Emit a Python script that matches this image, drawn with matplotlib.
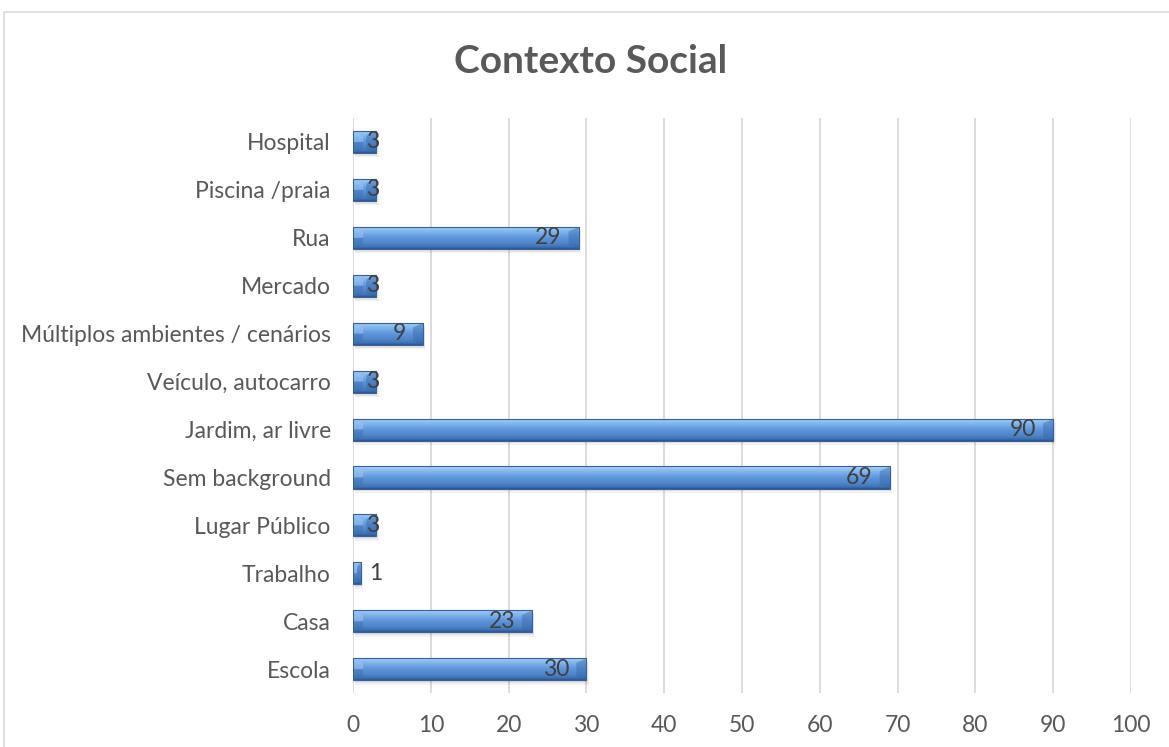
import numpy as np
import matplotlib.pyplot as plt
from matplotlib.patches import Rectangle, Polygon
from matplotlib.colors import LinearSegmentedColormap

# categories listed bottom to top
categorias = ["Escola", "Casa", "Trabalho", "Lugar Público", "Sem background",
              "Jardim, ar livre", "Veículo, autocarro", "Múltiplos ambientes / cenários",
              "Mercado", "Rua", "Piscina /praia", "Hospital"]
valores = [30, 23, 1, 3, 69, 90, 3, 9, 3, 29, 3, 3]
xticks = list(range(0, 101, 10))

plt.rcParams['font.family'] = ['Lato', 'DejaVu Sans']
texto = '#595959'

fig = plt.figure(figsize=(11.69, 7.47), dpi=100)
ax = fig.add_axes([0.302, 0.072, 0.6655, 0.770])

# chart frame
fig.patches.append(Rectangle((4 / 1169, -0.1), 1.2, 1 - 12 / 747 + 0.1,
                             transform=fig.transFigure, fill=False,
                             edgecolor='#D9D9D9', lw=1.2))

y = np.arange(len(categorias))
h = 0.46
grad = LinearSegmentedColormap.from_list(
    'barra', [(0, '#b5d6f7'), (0.12, '#93c2f0'), (0.3, '#78aeea'), (0.5, '#5f96da'),
              (0.75, '#4f86cb'), (0.9, '#4274b5'), (1, '#2f5690')])
img = np.linspace(0, 1, 64).reshape(-1, 1)

for yi, v in zip(y, valores):
    # soft shadow
    for k, a in enumerate([0.05, 0.05, 0.05]):
        ax.add_patch(Rectangle((0.1 + 0.1 * k, yi - h / 2 - 0.03 - 0.03 * k), v, h,
                               facecolor='#000000', alpha=a, lw=0, zorder=2))
    bar = Rectangle((0, yi - h / 2), v, h, facecolor='#5b8fd0', lw=0, zorder=3)
    ax.add_patch(bar)
    im = ax.imshow(img, cmap=grad, aspect='auto', origin='upper',
                   extent=(0, v, yi - h / 2, yi + h / 2), zorder=3.5)
    im.set_clip_path(bar)
    b = min(1.3, v / 2)
    # bevel ends
    ax.add_patch(Polygon([(0, yi + h / 2), (b, yi + h / 2 - 0.1), (b, yi), (0, yi)],
                         closed=True, facecolor='#9cc8f3', alpha=0.5, lw=0, zorder=4))
    ax.add_patch(Polygon([(0, yi), (b, yi), (b, yi - h / 2 + 0.08), (0, yi - h / 2)],
                         closed=True, facecolor='#3e6fb0', alpha=0.45, lw=0, zorder=4))
    ax.add_patch(Polygon([(v, yi + h / 2), (v - b, yi + h / 2 - 0.1), (v - b, yi - h / 2 + 0.08),
                          (v, yi - h / 2)], closed=True, facecolor='#3566a8',
                         alpha=0.45, lw=0, zorder=4))
    ax.add_patch(Rectangle((0, yi - h / 2), v, h, fill=False,
                           edgecolor='#34619c', lw=0.8, zorder=4.5))
    if v >= 5:
        ax.annotate(str(v), (v, yi), xytext=(-17, 0), textcoords='offset pixels',
                    ha='right', va='center', fontsize=16.5, color='#404040', zorder=5)
    elif v >= 2:
        ax.annotate(str(v), (v, yi), xytext=(3, 0), textcoords='offset pixels',
                    ha='right', va='center', fontsize=16.5, color='#404040', zorder=5)
    else:
        ax.annotate(str(v), (v, yi), xytext=(8, 0), textcoords='offset pixels',
                    ha='left', va='center', fontsize=16.5, color='#404040', zorder=5)

ax.set_xlim(0, 100)
ax.set_ylim(-0.5, len(categorias) - 0.5)
ax.set_xticks(xticks)
ax.set_yticks(y)
ax.set_yticklabels(categorias)
ax.tick_params(length=0, labelsize=16.5, colors=texto)
ax.tick_params(axis='y', pad=16)
ax.tick_params(axis='x', pad=16)
ax.grid(axis='x', color='#D9D9D9', lw=1.3, zorder=0)
ax.set_axisbelow(True)
for s in ax.spines.values():
    s.set_visible(False)

fig.text(0.505, 0.918, 'Contexto Social', ha='center', va='center',
         fontsize=28, fontweight='bold', color=texto)

fig.savefig('out.png', dpi=100)
